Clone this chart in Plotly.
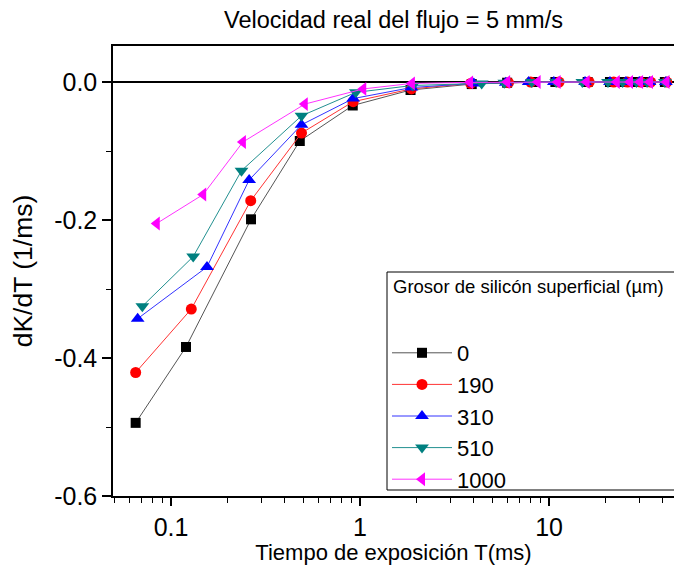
import plotly.graph_objects as go

# ---- data ----
series_names = ["0", "190", "310", "510", "1000"]

x_0 = [0.065, 0.12, 0.265, 0.48, 0.915, 1.85, 3.9, 6.0, 8.2, 10.8, 16.0, 21.0, 25.0, 29.5, 33.0, 41.0]
y_0 = [-0.494, -0.384, -0.199, -0.0855, -0.034, -0.0116, -0.003, -0.001, 0.0, 0.0, 0.0, 0.0, 0.0, 0.0, 0.0, 0.0]

x_190 = [0.065, 0.128, 0.264, 0.49, 0.92, 1.87, 3.85, 6.1, 8.0, 11.3, 16.3, 22.0, 26.0, 30.5, 34.5, 42.0]
y_190 = [-0.421, -0.329, -0.172, -0.074, -0.0285, -0.010, -0.002, -0.001, 0.0, 0.0, 0.0, 0.0, 0.0, 0.0, 0.0, 0.0]

x_310 = [0.0666, 0.155, 0.259, 0.49, 0.92, 1.87, 4.0, 5.9, 7.8, 10.6, 15.5, 21.0, 25.5, 30.0, 34.0, 41.5]
y_310 = [-0.343, -0.268, -0.142, -0.062, -0.024, -0.008, -0.002, -0.001, 0.0, 0.0, 0.0, 0.0, 0.0, 0.0, 0.0, 0.0]

x_510 = [0.0705, 0.131, 0.236, 0.49, 0.95, 1.9, 4.4, 5.8, 8.1, 10.9, 15.0, 20.5, 24.5, 29.0, 33.0, 41.0]
y_510 = [-0.325, -0.253, -0.1285, -0.049, -0.015, -0.005, -0.002, -0.001, 0.0, 0.0, 0.0, 0.0, 0.0, 0.0, 0.0, 0.0]

x_1000 = [0.084, 0.148, 0.24, 0.51, 1.04, 1.88, 3.82, 6.0, 8.7, 11.1, 15.8, 22.8, 26.8, 30.3, 34.2, 41.8]
y_1000 = [-0.205, -0.163, -0.087, -0.032, -0.010, -0.002, -0.0005, 0.0, 0.0, 0.0, 0.0, 0.0, 0.0, 0.0, 0.0, 0.0]

x_ticks = [0.1, 1, 10]
x_ticklabels = ["0.1", "1", "10"]
y_ticks = [0.0, -0.2, -0.4, -0.6]
y_ticklabels = ["0.0", "-0.2", "-0.4", "-0.6"]

legend_title = "Grosor de silicón superficial (µm)"

# ---- styling ----
xs = [x_0, x_190, x_310, x_510, x_1000]
ys = [y_0, y_190, y_310, y_510, y_1000]
marker_colors = ["#000000", "#FF0000", "#0000FF", "#008080", "#FF00FF"]
line_colors = ["#555555", "#FF3333", "#3333FF", "#229090", "#FF33FF"]
symbols = ["square", "circle", "triangle-up", "triangle-down", "triangle-left"]
sizes = [10, 11, 12, 12, 12]

FONT = "Liberation Sans, Arial, sans-serif"

W, H = 674, 565
ML, MR, MT, MB = 113, 0, 46, 69
PW, PH = W - ML - MR, H - MT - MB


def px_x(p):
    return (p - ML) / PW


def px_y(p):
    return (H - MB - p) / PH


fig = go.Figure()
for name, x, y, mc, lc, sym, sz in zip(series_names, xs, ys, marker_colors, line_colors, symbols, sizes):
    fig.add_trace(go.Scatter(
        x=x, y=y, name=name, mode="lines+markers",
        line=dict(color=lc, width=1),
        marker=dict(color=mc, symbol=sym, size=sz, line=dict(width=0)),
    ))

minor_x = [m * 10 ** e for e in range(-2, 2) for m in range(2, 10)]

fig.update_layout(
    width=W, height=H,
    margin=dict(l=ML, r=MR, t=MT, b=MB),
    paper_bgcolor="white", plot_bgcolor="white",
    font=dict(family=FONT, color="black"),
    title=dict(text="Velocidad real del flujo = 5 mm/s", x=0.5, xref="paper",
               y=1 - 20 / H, yref="container", yanchor="middle",
               font=dict(size=23.5, family=FONT, color="black")),
    showlegend=True,
    legend=dict(
        x=px_x(387), y=px_y(332), xanchor="left", yanchor="top",
        bgcolor="rgba(0,0,0,0)", borderwidth=0,
        font=dict(size=22, family=FONT),
        itemwidth=60,
    ),
    shapes=[dict(type="rect", xref="paper", yref="paper",
                 x0=px_x(387), x1=1.05, y0=px_y(490), y1=px_y(272),
                 line=dict(color="black", width=1), fillcolor="white", layer="above")],
    annotations=[dict(text=legend_title, xref="paper", yref="paper",
                      x=px_x(391), y=px_y(286), xanchor="left", yanchor="middle",
                      showarrow=False, font=dict(size=18.5, family=FONT, color="black"))],
)

fig.update_xaxes(
    type="log", range=[-1.307, 1.661],
    showgrid=False, zeroline=False,
    showline=True, linecolor="black", linewidth=1.5, mirror=True,
    ticks="outside", ticklen=8, tickwidth=1.5, tickcolor="black",
    tickvals=x_ticks, ticktext=x_ticklabels,
    tickfont=dict(size=25, family=FONT),
    minor=dict(tickvals=minor_x, ticks="outside", ticklen=5, tickwidth=1.2, tickcolor="black"),
    title=dict(text="Tiempo de exposición T(ms)", font=dict(size=22, family=FONT), standoff=0),
)
fig.update_yaxes(
    range=[-0.6, 0.0522],
    showgrid=False,
    zeroline=True, zerolinecolor="black", zerolinewidth=1.5,
    showline=True, linecolor="black", linewidth=1.5, mirror=False,
    ticks="outside", ticklen=9, tickwidth=1.5, tickcolor="black",
    tickvals=y_ticks, ticktext=y_ticklabels,
    tickfont=dict(size=25, family=FONT),
    minor=dict(tickvals=[-0.1, -0.3, -0.5], ticks="outside", ticklen=5, tickwidth=1.2, tickcolor="black"),
    title=dict(text="dK/dT (1/ms)", font=dict(size=26.5, family=FONT), standoff=14),
)

fig.write_html("out.html")
